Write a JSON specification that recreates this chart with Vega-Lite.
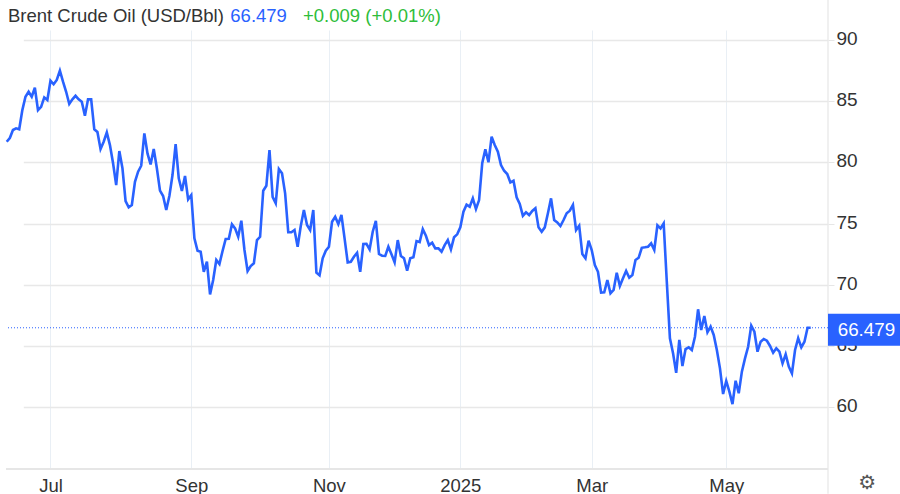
{"$schema":"https://vega.github.io/schema/vega-lite/v6.json","width":822,"height":439,"autosize":"none","padding":{"left":6,"top":30,"right":72,"bottom":25},"background":"white","config":{"view":{"stroke":null},"font":"Liberation Sans"},
"datasets":{"brent":[
{"d":"2024-06-11","v":81.69},{"d":"2024-06-12","v":82.0},{"d":"2024-06-13","v":82.65},{"d":"2024-06-14","v":82.79},{"d":"2024-06-17","v":82.71},{"d":"2024-06-18","v":84.28},{"d":"2024-06-19","v":85.37},{"d":"2024-06-20","v":85.78},{"d":"2024-06-21","v":85.37},{"d":"2024-06-24","v":86.11},{"d":"2024-06-25","v":84.28},{"d":"2024-06-26","v":84.55},{"d":"2024-06-27","v":85.32},{"d":"2024-06-28","v":85.10},
{"d":"2024-07-01","v":86.68},{"d":"2024-07-02","v":86.39},{"d":"2024-07-03","v":86.74},{"d":"2024-07-04","v":87.50},{"d":"2024-07-05","v":86.60},{"d":"2024-07-08","v":85.78},{"d":"2024-07-09","v":84.78},{"d":"2024-07-10","v":85.16},{"d":"2024-07-11","v":85.45},{"d":"2024-07-12","v":85.16},{"d":"2024-07-15","v":84.96},{"d":"2024-07-16","v":83.82},{"d":"2024-07-17","v":85.16},{"d":"2024-07-18","v":85.16},{"d":"2024-07-19","v":82.71},{"d":"2024-07-22","v":82.49},{"d":"2024-07-23","v":81.10},{"d":"2024-07-24","v":81.69},{"d":"2024-07-25","v":82.45},{"d":"2024-07-26","v":81.42},{"d":"2024-07-29","v":79.93},{"d":"2024-07-30","v":78.15},{"d":"2024-07-31","v":80.93},
{"d":"2024-08-01","v":79.52},{"d":"2024-08-02","v":76.84},{"d":"2024-08-05","v":76.33},{"d":"2024-08-06","v":76.52},{"d":"2024-08-07","v":78.42},{"d":"2024-08-08","v":79.24},{"d":"2024-08-09","v":79.73},{"d":"2024-08-12","v":82.38},{"d":"2024-08-13","v":80.74},{"d":"2024-08-14","v":79.84},{"d":"2024-08-15","v":81.10},{"d":"2024-08-16","v":79.52},{"d":"2024-08-19","v":77.69},{"d":"2024-08-20","v":77.25},{"d":"2024-08-21","v":76.11},{"d":"2024-08-22","v":77.25},{"d":"2024-08-23","v":78.97},{"d":"2024-08-26","v":81.50},{"d":"2024-08-27","v":78.70},{"d":"2024-08-28","v":77.66},{"d":"2024-08-29","v":78.89},{"d":"2024-08-30","v":76.98},
{"d":"2024-09-02","v":77.33},{"d":"2024-09-03","v":73.79},{"d":"2024-09-04","v":72.78},{"d":"2024-09-05","v":72.70},{"d":"2024-09-06","v":71.06},{"d":"2024-09-09","v":71.88},{"d":"2024-09-10","v":69.21},{"d":"2024-09-11","v":70.38},{"d":"2024-09-12","v":72.02},{"d":"2024-09-13","v":71.69},{"d":"2024-09-16","v":72.76},{"d":"2024-09-17","v":73.74},{"d":"2024-09-18","v":73.76},{"d":"2024-09-19","v":74.94},{"d":"2024-09-20","v":74.61},{"d":"2024-09-23","v":73.92},{"d":"2024-09-24","v":75.23},{"d":"2024-09-25","v":72.84},{"d":"2024-09-26","v":71.12},{"d":"2024-09-27","v":71.53},{"d":"2024-09-30","v":71.75},
{"d":"2024-10-01","v":73.65},{"d":"2024-10-02","v":73.92},{"d":"2024-10-03","v":77.69},{"d":"2024-10-04","v":78.09},{"d":"2024-10-07","v":81.01},{"d":"2024-10-08","v":77.19},{"d":"2024-10-09","v":76.66},{"d":"2024-10-10","v":79.46},{"d":"2024-10-11","v":79.11},{"d":"2024-10-14","v":77.47},{"d":"2024-10-15","v":74.29},{"d":"2024-10-16","v":74.29},{"d":"2024-10-17","v":74.47},{"d":"2024-10-18","v":73.11},{"d":"2024-10-21","v":74.80},{"d":"2024-10-22","v":76.11},{"d":"2024-10-23","v":74.88},{"d":"2024-10-24","v":74.47},{"d":"2024-10-25","v":76.11},{"d":"2024-10-28","v":70.98},{"d":"2024-10-29","v":70.77},{"d":"2024-10-30","v":72.16},{"d":"2024-10-31","v":72.78},
{"d":"2024-11-01","v":73.11},{"d":"2024-11-04","v":75.15},{"d":"2024-11-05","v":75.56},{"d":"2024-11-06","v":74.96},{"d":"2024-11-07","v":75.70},{"d":"2024-11-08","v":73.79},{"d":"2024-11-11","v":71.83},{"d":"2024-11-12","v":71.88},{"d":"2024-11-13","v":72.29},{"d":"2024-11-14","v":72.61},{"d":"2024-11-15","v":71.06},{"d":"2024-11-18","v":73.33},{"d":"2024-11-19","v":73.35},{"d":"2024-11-20","v":72.89},{"d":"2024-11-21","v":74.33},{"d":"2024-11-22","v":75.23},{"d":"2024-11-25","v":72.51},{"d":"2024-11-26","v":72.37},{"d":"2024-11-27","v":72.35},{"d":"2024-11-28","v":73.11},{"d":"2024-11-29","v":72.49},
{"d":"2024-12-02","v":71.83},{"d":"2024-12-03","v":73.65},{"d":"2024-12-04","v":72.35},{"d":"2024-12-05","v":72.16},{"d":"2024-12-06","v":71.14},{"d":"2024-12-09","v":72.16},{"d":"2024-12-10","v":72.24},{"d":"2024-12-11","v":73.57},{"d":"2024-12-12","v":73.49},{"d":"2024-12-13","v":74.55},{"d":"2024-12-16","v":74.0},{"d":"2024-12-17","v":73.24},{"d":"2024-12-18","v":73.43},{"d":"2024-12-19","v":72.97},{"d":"2024-12-20","v":72.97},{"d":"2024-12-23","v":72.70},{"d":"2024-12-24","v":73.24},{"d":"2024-12-26","v":73.65},{"d":"2024-12-27","v":72.89},{"d":"2024-12-30","v":73.88},{"d":"2024-12-31","v":74.12},
{"d":"2025-01-02","v":74.69},{"d":"2025-01-03","v":75.97},{"d":"2025-01-06","v":76.54},{"d":"2025-01-07","v":76.38},{"d":"2025-01-08","v":77.06},{"d":"2025-01-09","v":76.19},{"d":"2025-01-10","v":76.92},{"d":"2025-01-13","v":79.93},{"d":"2025-01-14","v":81.07},{"d":"2025-01-15","v":80.01},{"d":"2025-01-16","v":82.1},{"d":"2025-01-17","v":81.42},{"d":"2025-01-20","v":80.87},{"d":"2025-01-21","v":79.79},{"d":"2025-01-22","v":79.32},{"d":"2025-01-23","v":79.05},{"d":"2025-01-24","v":78.37},{"d":"2025-01-27","v":78.50},{"d":"2025-01-28","v":77.15},{"d":"2025-01-29","v":76.60},{"d":"2025-01-30","v":75.64},{"d":"2025-01-31","v":75.92},
{"d":"2025-02-03","v":75.70},{"d":"2025-02-04","v":76.03},{"d":"2025-02-05","v":76.25},{"d":"2025-02-06","v":74.69},{"d":"2025-02-07","v":74.33},{"d":"2025-02-10","v":74.69},{"d":"2025-02-11","v":75.84},{"d":"2025-02-12","v":77.06},{"d":"2025-02-13","v":75.29},{"d":"2025-02-14","v":75.10},{"d":"2025-02-17","v":74.80},{"d":"2025-02-18","v":75.29},{"d":"2025-02-19","v":75.84},{"d":"2025-02-20","v":76.05},{"d":"2025-02-21","v":76.52},{"d":"2025-02-24","v":74.47},{"d":"2025-02-25","v":74.82},{"d":"2025-02-26","v":72.51},{"d":"2025-02-27","v":72.16},{"d":"2025-02-28","v":73.60},
{"d":"2025-03-03","v":72.84},{"d":"2025-03-04","v":71.61},{"d":"2025-03-05","v":71.06},{"d":"2025-03-06","v":69.35},{"d":"2025-03-07","v":69.38},{"d":"2025-03-10","v":70.38},{"d":"2025-03-11","v":69.3},{"d":"2025-03-12","v":69.57},{"d":"2025-03-13","v":70.98},{"d":"2025-03-14","v":69.89},{"d":"2025-03-17","v":70.52},{"d":"2025-03-18","v":71.12},{"d":"2025-03-19","v":70.57},{"d":"2025-03-20","v":70.79},{"d":"2025-03-21","v":72.02},{"d":"2025-03-24","v":72.2},{"d":"2025-03-25","v":73.02},{"d":"2025-03-26","v":73.06},{"d":"2025-03-27","v":73.11},{"d":"2025-03-28","v":73.38},{"d":"2025-03-31","v":72.84},
{"d":"2025-04-01","v":74.86},{"d":"2025-04-02","v":74.61},{"d":"2025-04-03","v":75.02},{"d":"2025-04-04","v":70.25},{"d":"2025-04-07","v":65.62},{"d":"2025-04-08","v":64.39},{"d":"2025-04-09","v":62.79},{"d":"2025-04-10","v":65.48},{"d":"2025-04-11","v":63.35},{"d":"2025-04-14","v":64.74},{"d":"2025-04-15","v":64.88},{"d":"2025-04-16","v":64.66},{"d":"2025-04-17","v":65.75},{"d":"2025-04-18","v":67.99},{"d":"2025-04-21","v":66.30},{"d":"2025-04-22","v":67.44},{"d":"2025-04-23","v":66.11},{"d":"2025-04-24","v":66.57},{"d":"2025-04-25","v":65.89},{"d":"2025-04-28","v":64.66},{"d":"2025-04-29","v":63.16},{"d":"2025-04-30","v":61.06},
{"d":"2025-05-01","v":62.13},{"d":"2025-05-02","v":61.25},{"d":"2025-05-05","v":60.24},{"d":"2025-05-06","v":62.15},{"d":"2025-05-07","v":61.12},{"d":"2025-05-08","v":62.89},{"d":"2025-05-09","v":63.98},{"d":"2025-05-12","v":64.93},{"d":"2025-05-13","v":66.65},{"d":"2025-05-14","v":66.16},{"d":"2025-05-15","v":64.52},{"d":"2025-05-16","v":65.34},{"d":"2025-05-19","v":65.56},{"d":"2025-05-20","v":65.42},{"d":"2025-05-21","v":64.99},{"d":"2025-05-22","v":64.44},{"d":"2025-05-23","v":64.80},{"d":"2025-05-26","v":64.52},{"d":"2025-05-27","v":63.57},{"d":"2025-05-28","v":64.31},{"d":"2025-05-29","v":63.30},{"d":"2025-05-30","v":62.75},
{"d":"2025-06-02","v":64.66},{"d":"2025-06-03","v":65.62},{"d":"2025-06-04","v":64.88},{"d":"2025-06-05","v":65.34},{"d":"2025-06-06","v":66.48},{"d":"2025-06-09","v":66.479}
],"last":[{"d":"2025-06-09","v":66.479,"label":"66.479"}]},
"layer":[
{"data":{"name":"brent"},"mark":{"type":"line","color":"#2962ff","strokeWidth":2.6,"strokeJoin":"miter","interpolate":"linear"},
"encoding":{
"x":{"field":"d","type":"ordinal","title":null,"scale":{"type":"point","range":[0.7,804.7],"padding":0},
"axis":{"values":["2024-07-01","2024-09-02","2024-11-01","2025-01-02","2025-03-03","2025-05-01"],"labelExpr":"datum.value=='2024-07-01'?'Jul':datum.value=='2024-09-02'?'Sep':datum.value=='2024-11-01'?'Nov':datum.value=='2025-01-02'?'2025':datum.value=='2025-03-03'?'Mar':'May'","labelAngle":0,"labelFontSize":18.5,"labelColor":"#333333","labelPadding":7,"labelOverlap":false,"ticks":false,"domain":false,"grid":true,"gridColor":"#e9eff5","gridWidth":1}},
"y":{"field":"v","type":"quantitative","title":null,"scale":{"domain":[54.93,90.83],"nice":false,"zero":false},
"axis":{"orient":"right","values":[60,65,70,75,80,85,90],"labelFontSize":19,"labelColor":"#333333","labelPadding":2,"labelOffset":-1.5,"tickColor":"#e6e6e6","tickSize":6,"grid":true,"gridColor":"#e8e8e8","gridWidth":1.5,"domain":false}}}},
{"data":{"name":"last"},"mark":{"type":"rule","color":"#e6e6e6","strokeWidth":2},"encoding":{"y":{"datum":54.93}}},
{"data":{"name":"last"},"mark":{"type":"rule","color":"#e6e6e6","strokeWidth":1.2,"xOffset":17.3},"encoding":{"x":{"field":"d","type":"ordinal"},"y":{"datum":93.28},"y2":{"datum":52.9}}},
{"data":{"name":"last"},"mark":{"type":"rule","color":"#2962ff","strokeWidth":1,"strokeDash":[1,2]},"encoding":{"y":{"field":"v","type":"quantitative"}}},
{"data":{"name":"last"},"mark":{"type":"rect","color":"#2962ff","xOffset":17.3,"x2Offset":90,"yOffset":-14,"y2Offset":18},"encoding":{"x":{"field":"d","type":"ordinal"},"x2":{"field":"d"},"y":{"field":"v","type":"quantitative"},"y2":{"field":"v"}}},
{"data":{"name":"last"},"mark":{"type":"text","color":"white","fontSize":18.8,"align":"left","baseline":"middle","dx":27,"dy":2.5},"encoding":{"x":{"field":"d","type":"ordinal"},"y":{"field":"v","type":"quantitative"},"text":{"field":"label"}}},
{"data":{"values":[{"d":"2024-06-11","v":91.97,"label":"Brent Crude Oil (USD/Bbl)"}]},"mark":{"type":"text","color":"#333333","fontSize":18.5,"align":"left","baseline":"middle","dx":1.3},"encoding":{"x":{"field":"d","type":"ordinal"},"y":{"field":"v","type":"quantitative"},"text":{"field":"label"}}},
{"data":{"values":[{"d":"2024-09-18","v":91.97,"label":"66.479"}]},"mark":{"type":"text","color":"#2962ff","fontSize":18.5,"align":"left","baseline":"middle","dx":1.5},"encoding":{"x":{"field":"d","type":"ordinal"},"y":{"field":"v","type":"quantitative"},"text":{"field":"label"}}},
{"data":{"values":[{"d":"2024-10-22","v":91.97,"label":"+0.009 (+0.01%)"}]},"mark":{"type":"text","color":"#2ebd3a","fontSize":18.5,"align":"left","baseline":"middle","dx":-0.9},"encoding":{"x":{"field":"d","type":"ordinal"},"y":{"field":"v","type":"quantitative"},"text":{"field":"label"}}},
{"data":{"values":[{"d":"2025-06-09","v":53.7,"label":"⚙"}]},"mark":{"type":"text","color":"#555555","font":"DejaVu Sans","fontSize":20,"align":"center","baseline":"middle","dx":56.5,"dy":-1},"encoding":{"x":{"field":"d","type":"ordinal"},"y":{"field":"v","type":"quantitative"},"text":{"field":"label"}}}
]}
